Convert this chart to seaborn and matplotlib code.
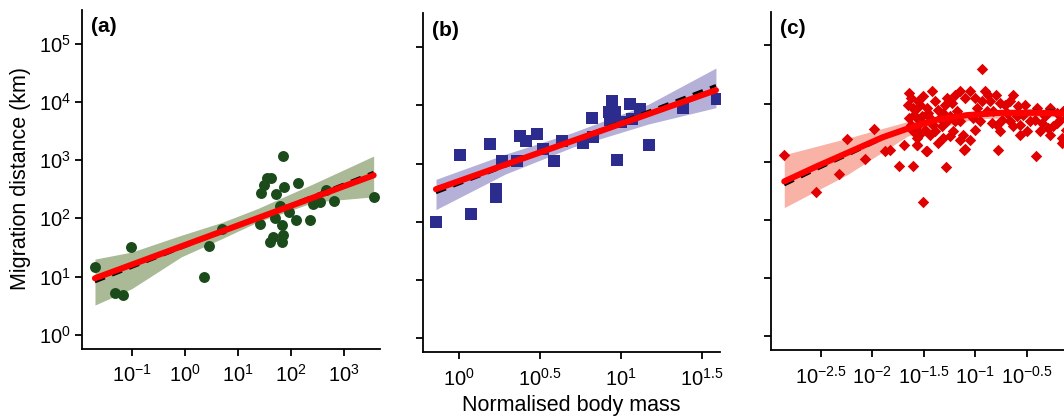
import numpy as np
import seaborn as sns
import matplotlib
matplotlib.use("Agg")
import matplotlib.pyplot as plt
from matplotlib.ticker import FixedLocator, NullLocator, FixedFormatter

# all values are log10
# (a)
a_mass = [-1.69, -1.01, -1.31, -1.17, 0.36, 0.46, 0.71, 1.86, 1.56, 1.50, 1.44, 1.72, 1.88, 2.13, 1.80,
          1.97, 1.71, 1.42, 1.83, 2.10, 2.36, 1.86, 1.67, 1.61, 1.83, 2.66, 2.55, 2.42, 2.81, 3.56, 1.62]
a_dist = [1.16, 1.50, 0.72, 0.69, 0.99, 1.53, 1.81, 3.07, 2.69, 2.57, 2.43, 2.41, 2.53, 2.60, 2.22,
          2.11, 2.00, 1.91, 1.88, 1.98, 1.98, 1.71, 1.68, 1.59, 1.59, 2.49, 2.28, 2.25, 2.29, 2.37, 2.70]
a_fit_x = [-1.69, 3.56]
a_fit = [0.97, 2.74]
a_fit_dash = [0.91, 2.79]
a_band_x = [-1.69, -1.0, -0.06, 0.7, 1.38, 2.44, 3.56]
a_band_lo = [0.51, 0.79, 1.34, 1.65, 1.94, 2.28, 2.37]
a_band_hi = [1.30, 1.42, 1.71, 1.93, 2.17, 2.60, 3.07]

# (b)
b_mass = [-0.142, 0.074, 0.004, 0.19, 0.23, 0.23, 0.265, 0.377, 0.414, 0.48, 0.356, 0.52, 0.586, 0.636,
          0.764, 0.83, 0.82, 0.944, 0.924, 0.965, 0.934, 1.00, 0.975, 1.054, 1.12, 1.068, 1.17, 1.38, 1.59]
b_dist = [1.99, 2.14, 3.15, 3.33, 2.56, 2.43, 3.05, 3.47, 3.38, 3.51, 3.05, 3.25, 3.04, 3.39,
          3.36, 3.46, 3.79, 4.08, 3.88, 3.88, 3.74, 3.71, 3.07, 4.03, 3.94, 3.76, 3.32, 3.96, 4.11]
b_fit_x = [-0.142, 1.586]
b_fit = [2.56, 4.26]
b_fit_dash = [2.50, 4.34]
b_band_x = [-0.142, 0.286, 0.70, 1.17, 1.586]
b_band_lo = [2.21, 2.82, 3.28, 3.68, 3.96]
b_band_hi = [2.73, 3.16, 3.53, 4.02, 4.64]

# (c)
c_mass = [-2.856, -2.549, -2.322, -2.251, -2.073, -1.985, -1.879, -1.830, -1.739, -1.697, -1.604, -1.506,
          -1.571, -1.48, -1.286, -1.108, -0.778, -0.413, -0.94,
          -1.642, -1.626, -1.652, -1.610, -1.562, -1.594, -1.545, -1.642, -1.626, -1.568, -1.545, -1.571,
          -1.426, -1.507, -1.539, -1.587, -1.474, -1.393, -1.361, -1.312, -1.442, -1.539, -1.604, -1.490,
          -1.571, -1.393, -1.329, -1.280, -1.248, -1.231, -1.474, -1.361, -1.312,
          -1.151, -1.053, -1.102, -1.005, -0.908, -0.940, -0.859, -0.875, -1.151, -1.215, -1.118, -1.053,
          -1.102, -1.005, -1.248, -1.151, -0.956, -0.892,
          -0.801, -0.762, -0.714, -0.633, -0.665, -0.843, -0.795, -0.746, -0.665,
          -0.584, -0.536, -0.568, -0.503, -0.568, -0.471, -0.422, -0.358, -0.325, -0.293, -0.277, -0.212,
          -0.180, -0.163, -0.212, -0.147, -0.406, -0.277,
          -1.458, -1.523, -1.409, -1.345, -1.296, -1.183, -1.199, -0.989, -0.827, -0.697, -0.600, -0.520,
          -0.374, -0.244, -1.280, -1.442, -1.199, -1.021, -0.762, -0.633, -0.163, -0.12, -0.11]
c_dist = [3.12, 2.48, 2.79, 3.39, 3.04, 3.56, 3.18, 3.20, 2.92, 3.29, 2.92, 2.30,
          3.29, 3.18, 2.91, 3.20, 3.20, 3.09, 4.59,
          4.180, 4.094, 3.979, 3.922, 4.037, 3.807, 3.721, 3.750, 3.635, 3.549, 3.463, 3.291,
          4.220, 4.123, 3.979, 3.893, 3.922, 4.037, 3.893, 3.836, 3.750, 3.664, 3.520, 3.549,
          3.406, 3.520, 3.606, 3.693, 3.779, 4.008, 3.176, 3.320, 3.406,
          4.209, 4.220, 4.094, 4.094, 4.220, 4.037, 4.037, 4.152, 3.693, 3.520, 3.463, 3.377,
          3.216, 3.549, 3.434, 3.377, 3.693, 3.865,
          4.152, 4.008, 3.979, 4.140, 4.037, 3.664, 3.635, 3.721, 3.693,
          3.951, 3.807, 3.635, 3.520, 3.463, 3.693, 3.721, 3.664, 3.779, 3.578, 3.463, 3.664,
          3.721, 3.406, 3.836, 3.865, 3.922, 3.922,
          3.836, 3.779, 3.635, 3.750, 3.979, 3.865, 4.152, 3.922, 3.865, 3.836, 3.779, 3.979,
          3.520, 3.606, 4.094, 3.463, 3.693, 3.750, 3.520, 3.606, 3.32, 3.55, 3.75]
c_fit_x = [-2.856, -2.54, -2.22, -1.90, -1.64, -1.38, -1.085, -0.76, -0.40, -0.09]
c_fit = [2.66, 2.92, 3.17, 3.42, 3.58, 3.72, 3.80, 3.84, 3.84, 3.83]
c_fit_dash = [2.60, 2.87, 3.13, 3.40, 3.58, 3.73, 3.82, 3.86, 3.87, 3.87]
c_band_x = [-2.856, -2.25, -1.66, -1.0, -0.09]
c_band_lo = [2.21, 2.77, 3.44, 3.74, 3.78]
c_band_hi = [3.12, 3.40, 3.69, 3.86, 3.90]

y_ticks = [0, 1, 2, 3, 4, 5]
a_xticks = [-1, 0, 1, 2, 3]
b_xticks = [0, 0.5, 1, 1.5]
c_xticks = [-2.5, -2, -1.5, -1, -0.5]

sns.set_style("ticks")
plt.rcParams["font.family"] = ["Liberation Sans", "DejaVu Sans"]
plt.rcParams["mathtext.fontset"] = "custom"
plt.rcParams["mathtext.rm"] = "Liberation Sans"
plt.rcParams["mathtext.it"] = "Liberation Sans:italic"
plt.rcParams["mathtext.bf"] = "Liberation Sans:bold"
plt.rcParams["mathtext.default"] = "regular"
for k in ("text.color", "axes.labelcolor", "xtick.color", "ytick.color", "xtick.labelcolor",
          "ytick.labelcolor", "axes.edgecolor"):
    plt.rcParams[k] = "black"

fig = plt.figure(figsize=(10.64, 4.16), dpi=100)
W, H = 1064, 416


def px_axes(left, top, right, bottom):
    return fig.add_axes([left / W, 1 - bottom / H, (right - left) / W, (bottom - top) / H])


def lab(v):
    s = ("%g" % v).replace("-", "\u2212")
    return "$10^{%s}$" % s


panels = [
    dict(box=(81.7, 10, 380, 348.7), xl=(-1.94, 3.68), mass=a_mass, dist=a_dist, marker="o", s=62,
         pc="#1b4a1b", bc="#aab996", fx=a_fit_x, fy=a_fit, fd=a_fit_dash, bx=a_band_x, blo=a_band_lo,
         bhi=a_band_hi, xt=a_xticks, tag="(a)"),
    dict(box=(422.7, 13.3, 720, 352.3), xl=(-0.224, 1.611), mass=b_mass, dist=b_dist, marker="s", s=64,
         pc="#2c2c8e", bc="#b4b0d8", fx=b_fit_x, fy=b_fit, fd=b_fit_dash, bx=b_band_x, blo=b_band_lo,
         bhi=b_band_hi, xt=b_xticks, tag="(b)"),
    dict(box=(771, 11.7, 1069, 350), xl=(-2.985, -0.092), mass=c_mass, dist=c_dist, marker="D", s=34,
         pc="#e00000", bc="#f9b2a6", fx=c_fit_x, fy=c_fit, fd=c_fit_dash, bx=c_band_x, blo=c_band_lo,
         bhi=c_band_hi, xt=c_xticks, tag="(c)"),
]

for i, p in enumerate(panels):
    ax = px_axes(*p["box"])
    ax.set_xscale("log")
    ax.set_yscale("log")
    bx = 10 ** np.array(p["bx"])
    ax.fill_between(bx, 10 ** np.array(p["blo"]), 10 ** np.array(p["bhi"]), color=p["bc"],
                    linewidth=0, zorder=1)
    sns.scatterplot(x=10 ** np.array(p["mass"]), y=10 ** np.array(p["dist"]), ax=ax, marker=p["marker"],
                    s=p["s"], color=p["pc"], linewidth=0, zorder=2)
    fx = 10 ** np.array(p["fx"])
    sns.lineplot(x=fx, y=10 ** np.array(p["fd"]), ax=ax, color="black", linewidth=2.2,
                 linestyle=(0, (3.5, 2.5)), sort=False, estimator=None, zorder=3)
    sns.lineplot(x=fx, y=10 ** np.array(p["fy"]), ax=ax, color="#ff0000", linewidth=4.4,
                 sort=False, estimator=None, zorder=4)

    ax.set_xlim(10 ** p["xl"][0], 10 ** p["xl"][1])
    ax.set_ylim(10 ** -0.24, 10 ** 5.58)
    ax.xaxis.set_major_locator(FixedLocator([10 ** t for t in p["xt"]]))
    ax.xaxis.set_major_formatter(FixedFormatter([lab(t) for t in p["xt"]]))
    ax.xaxis.set_minor_locator(NullLocator())
    ax.yaxis.set_major_locator(FixedLocator([10 ** t for t in y_ticks]))
    ax.yaxis.set_minor_locator(NullLocator())
    if i == 0:
        ax.yaxis.set_major_formatter(FixedFormatter([lab(t) for t in y_ticks]))
    else:
        ax.set_yticklabels([])
    ax.tick_params(axis="both", direction="out", length=5.3, width=1.3, labelsize=14.5, color="black",
                   labelcolor="black")
    ax.tick_params(axis="x", pad=6)
    ax.tick_params(axis="y", pad=2.5)
    sns.despine(ax=ax)
    for sp in ("left", "bottom"):
        ax.spines[sp].set_linewidth(1.3)
        ax.spines[sp].set_color("black")
    ax.set_xlabel("")
    ax.set_ylabel("")
    ax.text(0.03, 0.95, p["tag"], transform=ax.transAxes, ha="left", va="center",
            fontsize=15, fontweight="bold", color="black")

fig.text(20.7 / W, 1 - 178 / H, "Migration distance (km)", rotation=90, ha="center", va="center",
         fontsize=15.5, color="black")
fig.text(571.7 / W, 1 - 405 / H, "Normalised body mass", ha="center", va="center", fontsize=15.5,
         color="black")

fig.savefig("out.png", dpi=100)
